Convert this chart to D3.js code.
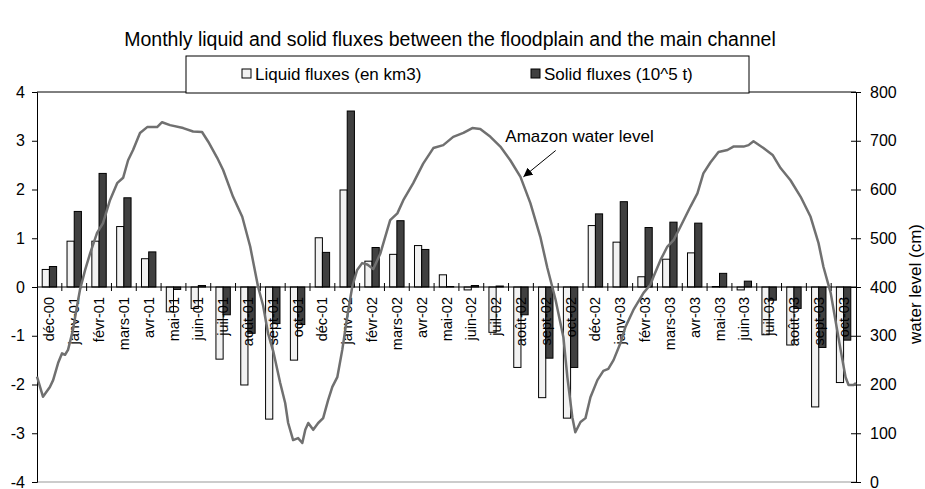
<!DOCTYPE html>
<html><head><meta charset="utf-8">
<script src="https://cdn.jsdelivr.net/npm/d3@7/dist/d3.min.js"></script>
<style>body{margin:0;background:#fff}svg{display:block;font-family:"Liberation Sans",Arial,sans-serif}</style>
</head><body>
<svg id="c" width="925" height="489"></svg>
<script>
const categories = ["déc-00","janv-01","févr-01","mars-01","avr-01","mai-01","juin-01","juil-01","août-01","sept-01","oct-01","déc-01","janv-02","févr-02","mars-02","avr-02","mai-02","juin-02","juil-02","août-02","sept-02","oct-02","déc-02","janv-03","févr-03","mars-03","avr-03","mai-03","juin-03","juil-03","août-03","sept-03","oct-03"];
const liquidFlux = [0.36,0.94,0.94,1.24,0.58,-0.51,-0.44,-1.48,-2.01,-2.71,-1.50,1.01,1.99,0.53,0.67,0.85,0.25,-0.06,-0.93,-1.65,-2.27,-2.69,1.26,0.92,0.21,0.57,0.70,0.01,-0.06,-0.98,-1.19,-2.46,-1.96];
const solidFlux = [0.42,1.55,2.33,1.83,0.72,-0.05,0.03,-0.57,-0.95,-0.75,-0.77,0.71,3.61,0.81,1.36,0.77,0.01,0.03,0.02,-0.57,-1.46,-1.65,1.50,1.75,1.22,1.33,1.31,0.28,0.12,-0.27,-0.44,-1.24,-1.09];
// water level: position in months from start of chart, level in cm
const waterMonth = [0.00,0.24,0.52,0.65,0.85,1.01,1.13,1.25,1.45,1.61,1.73,1.94,2.14,2.42,2.66,2.94,3.23,3.47,3.67,3.87,4.15,4.44,4.84,5.04,5.36,5.89,6.29,6.65,6.90,7.26,7.50,7.90,8.27,8.59,8.91,9.11,9.31,9.52,9.80,10.00,10.12,10.32,10.52,10.69,10.81,10.93,11.13,11.33,11.53,11.73,11.90,12.10,12.30,12.50,12.70,12.90,13.10,13.31,13.55,13.83,14.23,14.52,14.76,15.16,15.56,15.97,16.37,16.77,17.18,17.54,17.86,18.27,18.67,19.07,19.48,19.88,20.28,20.56,20.89,21.21,21.37,21.57,21.69,21.90,22.10,22.30,22.58,22.82,23.02,23.23,23.51,23.71,24.03,24.44,24.72,24.84,25.12,25.40,25.65,25.93,26.33,26.61,26.85,27.14,27.46,27.82,28.06,28.47,28.67,28.87,29.27,29.64,29.96,30.36,30.77,31.17,31.49,31.69,31.98,32.10,32.38,32.58,32.70,32.90,33.00];
const waterLevel = [216,175,195,209,244,264,261,271,312,360,394,435,469,511,531,578,613,624,660,681,716,728,728,738,732,726,719,718,698,665,640,585,544,483,400,362,305,268,203,162,121,86,90,80,107,121,107,121,131,168,195,215,271,339,400,435,449,446,437,468,537,551,578,613,653,685,691,708,716,726,724,708,688,660,626,572,503,440,375,297,215,133,102,123,131,174,209,228,232,250,285,318,353,388,405,421,455,483,496,524,565,592,633,656,677,681,688,688,691,699,685,671,644,619,585,544,490,441,388,353,271,215,199,199,203];
const leftTicks = [-4,-3,-2,-1,0,1,2,3,4];
const rightTicks = [0,100,200,300,400,500,600,700,800];
const seriesNames = ["Liquid fluxes (en km3)","Solid fluxes (10^5 t)"];
const titleText = "Monthly liquid and solid fluxes between the floodplain and the main channel";
const annotationText = "Amazon water level";
const rightTitle = "water level (cm)";

const svg = d3.select("#c");
const L = 37, R = 856, T = 92, B = 482;
const x = d3.scaleBand().domain(categories).range([L, R]).padding(0);
const xm = d3.scaleLinear().domain([0, categories.length]).range([L, R]);
const y = d3.scaleLinear().domain([-4, 4]).range([B, T]);
const y2 = d3.scaleLinear().domain([0, 800]).range([B, T]);
const bw = x.bandwidth() * 0.29;

// title
svg.append("text").attr("x", 450).attr("y", 46).attr("text-anchor", "middle")
  .attr("font-size", 19.5).attr("fill", "#000").text(titleText);

// plot frame top/bottom
svg.append("line").attr("x1", L).attr("x2", R).attr("y1", T).attr("y2", T).attr("stroke", "#000");
svg.append("line").attr("x1", L).attr("x2", R).attr("y1", B).attr("y2", B).attr("stroke", "#999");

// bars
const g = svg.append("g");
categories.forEach((c, i) => {
  const cx = x(c) + x.bandwidth() / 2;
  const vals = [liquidFlux[i], solidFlux[i]];
  vals.forEach((v, k) => {
    const y0 = y(Math.max(0, v)), y1 = y(Math.min(0, v));
    g.append("rect").attr("x", cx - bw + k * bw).attr("y", y0)
      .attr("width", bw).attr("height", Math.max(0.5, y1 - y0))
      .attr("fill", k === 0 ? "#f2f2f2" : "#404040")
      .attr("stroke", "#000").attr("stroke-width", 1);
  });
});

// x axis at zero
const xAxis = svg.append("g").attr("transform", `translate(0,${y(0)})`);
xAxis.append("line").attr("x1", L).attr("x2", R).attr("stroke", "#000");
categories.forEach((c, i) => {
  if (i === 0) return;
  xAxis.append("line").attr("x1", x(c)).attr("x2", x(c)).attr("y1", -4).attr("y2", 4).attr("stroke", "#000");
});
categories.forEach(c => {
  const cx = x(c) + x.bandwidth() / 2;
  svg.append("text").attr("transform", `translate(${cx},${y(0) + 10}) rotate(-90)`)
    .attr("text-anchor", "end").attr("dy", "0.35em").attr("font-size", 14.5).attr("fill", "#000").text(c);
});

// left axis
const la = svg.append("g").attr("transform", `translate(${L},0)`)
  .call(d3.axisLeft(y).tickValues(leftTicks).tickSize(5).tickPadding(7).tickFormat(d => String(d)));
la.selectAll("text").attr("font-size", 16).attr("font-family", "Liberation Sans, Arial, sans-serif").attr("fill", "#000");
la.selectAll("line,path").attr("stroke", "#000");

// right axis
const ra = svg.append("g").attr("transform", `translate(${R},0)`)
  .call(d3.axisRight(y2).tickValues(rightTicks).tickSize(5).tickPadding(9).tickFormat(d => String(d)));
ra.selectAll("text").attr("font-size", 16).attr("font-family", "Liberation Sans, Arial, sans-serif").attr("fill", "#000");
ra.selectAll("line,path").attr("stroke", "#000");
ra.selectAll(".tick").append("line").attr("x1", -5).attr("x2", 0).attr("stroke", "#000");
svg.append("text").attr("transform", `translate(915,${(T + B) / 2 - 3}) rotate(-90)`)
  .attr("text-anchor", "middle").attr("dy", "0.35em").attr("font-size", 17).attr("fill", "#000").text(rightTitle);

// water level line
const line = d3.line().x((d, i) => xm(waterMonth[i])).y(d => y2(d)).curve(d3.curveLinear);
svg.append("path").datum(waterLevel).attr("d", line).attr("fill", "none")
  .attr("stroke", "#707070").attr("stroke-width", 2.5).attr("stroke-linejoin", "round");

// annotation
svg.append("defs").append("marker").attr("id", "ah").attr("viewBox", "0 0 10 10")
  .attr("refX", 10).attr("refY", 5).attr("markerWidth", 9).attr("markerHeight", 9).attr("orient", "auto")
  .attr("markerUnits", "userSpaceOnUse")
  .append("path").attr("d", "M0,0 L10,5 L0,10 z").attr("fill", "#000");
svg.append("line").attr("x1", xm(20.9)).attr("y1", y2(680)).attr("x2", xm(19.6)).attr("y2", y2(626))
  .attr("stroke", "#000").attr("stroke-width", 1).attr("marker-end", "url(#ah)");
svg.append("text").attr("x", xm(18.87)).attr("y", y2(698)).attr("font-size", 17).attr("fill", "#000").text(annotationText);

// legend
const lg = svg.append("g");
lg.append("rect").attr("x", 186).attr("y", 56).attr("width", 563).attr("height", 37)
  .attr("fill", "#fff").attr("stroke", "#000");
const lx = [242, 531];
seriesNames.forEach((n, k) => {
  lg.append("rect").attr("x", lx[k]).attr("y", 69).attr("width", 9).attr("height", 9)
    .attr("fill", k === 0 ? "#f2f2f2" : "#404040").attr("stroke", "#000");
  lg.append("text").attr("x", lx[k] + 13).attr("y", 80).attr("font-size", 17).attr("fill", "#000").text(n);
});
</script>
</body></html>
